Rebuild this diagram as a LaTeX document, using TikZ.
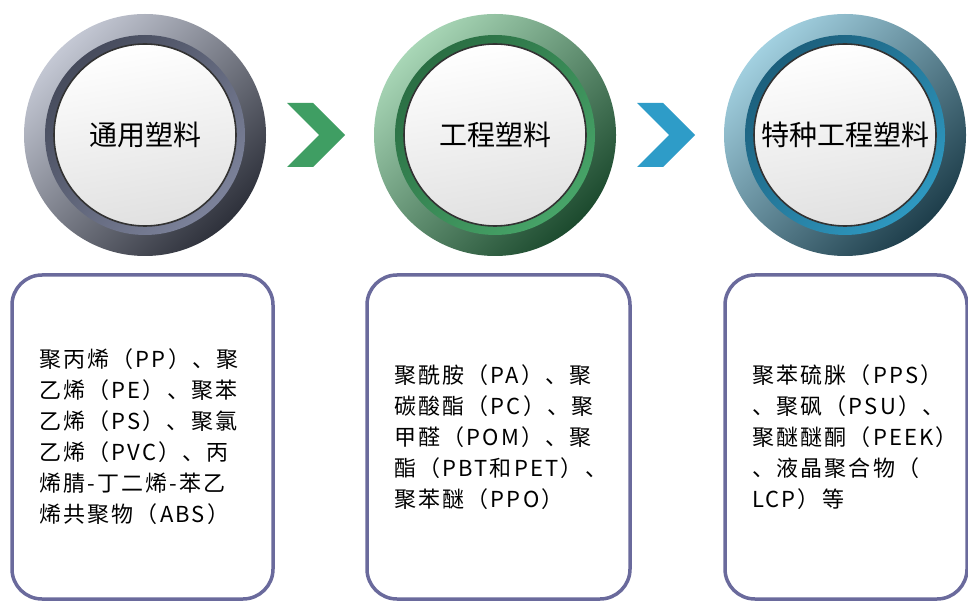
\documentclass[tikz,border=0pt]{standalone}
\usepackage{fontspec}
\newfontfamily\cjk{Noto Sans CJK SC}
\newfontfamily\cjkbox[LetterSpace=10]{Noto Sans CJK SC}
\usetikzlibrary{calc}
\definecolor{boxline}{HTML}{6A6A9C}
\definecolor{gLight}{HTML}{C4C8D4}\definecolor{gDark}{HTML}{2E313B}
\definecolor{gInA}{HTML}{464B5C}\definecolor{gInB}{HTML}{7C829A}
\definecolor{eLight}{HTML}{A8D6B6}\definecolor{eDark}{HTML}{1C4A2E}
\definecolor{eInA}{HTML}{2A6E43}\definecolor{eInB}{HTML}{47A468}
\definecolor{bLight}{HTML}{A2D0E0}\definecolor{bDark}{HTML}{1E3E4B}
\definecolor{bInA}{HTML}{1C5F7C}\definecolor{bInB}{HTML}{2E98C0}
\definecolor{arrG}{HTML}{3F9E63}\definecolor{arrB}{HTML}{2E9CC8}
\tikzset{
  outerring/.style n args={2}{circle, minimum size=242pt, inner sep=0pt,
    top color=#1, bottom color=#2, shading angle=45},
  innerring/.style n args={2}{circle, minimum size=200pt, inner sep=0pt,
    top color=#1, bottom color=#2, shading angle=45},
  disk/.style={circle, minimum size=182pt, inner sep=0pt, draw=black!80, line width=1.6pt,
    top color=white, bottom color=black!12, shading angle=10,
    font=\cjk\fontsize{28}{32}\selectfont},
  textbox/.style={draw=boxline, line width=3.5pt, rounded corners=30pt, fill=white,
    align=left, inner xsep=26pt, font=\cjkbox\fontsize{22}{31}\selectfont},
  chev/.style={fill=#1, draw=none}
}
\begin{document}
\begin{tikzpicture}[x=1pt,y=-1pt]
\useasboundingbox (0,0) rectangle (968,601);
% circles
\node[outerring={gLight}{gDark}] (c1) at (145,135) {};
\node[innerring={gInA}{gInB}] (r1) at (c1) {};
\node[disk] (d1) at (c1) {通用塑料};
\node[outerring={eLight}{eDark}] (c2) at (495,135) {};
\node[innerring={eInA}{eInB}] (r2) at (c2) {};
\node[disk] (d2) at (c2) {工程塑料};
\node[outerring={bLight}{bDark}] (c3) at (845,135) {};
\node[innerring={bInA}{bInB}] (r3) at (c3) {};
\node[disk] (d3) at (c3) {特种工程塑料};
% chevrons
\coordinate (m1) at ($(c1.east)!0.5!(c2.west)$);
\coordinate (m2) at ($(c2.east)!0.5!(c3.west)$);
\foreach \m/\c in {m1/arrG, m2/arrB}{
  \fill[chev=\c] ($(\m)+(-33,-32)$) -- ++(26,0) -- ++(32,32) -- ++(-32,32) -- ++(-26,0) -- ++(32,-32) -- cycle;
}
% boxes
\node[textbox, minimum width=261pt, minimum height=324pt, text width=207pt] (b1) at (142.5,437)
  {聚丙烯（PP）、聚\\乙烯（PE）、聚苯\\乙烯（PS）、聚氯\\乙烯（PVC）、丙\\烯腈-丁二烯-苯乙\\烯共聚物（ABS）};
\node[textbox, minimum width=263pt, minimum height=324pt, text width=209pt] (b2) at (498.5,437)
  {聚酰胺（PA）、聚\\碳酸酯（PC）、聚\\甲醛（POM）、聚\\酯（PBT和PET）、\\聚苯醚（PPO）};
\node[textbox, minimum width=242pt, minimum height=324pt, text width=188pt] (b3) at (846,437)
  {聚苯硫脒（PPS）\\、聚砜（PSU）、\\聚醚醚酮（PEEK）\\、液晶聚合物（\\LCP）等};
\end{tikzpicture}
\end{document}
